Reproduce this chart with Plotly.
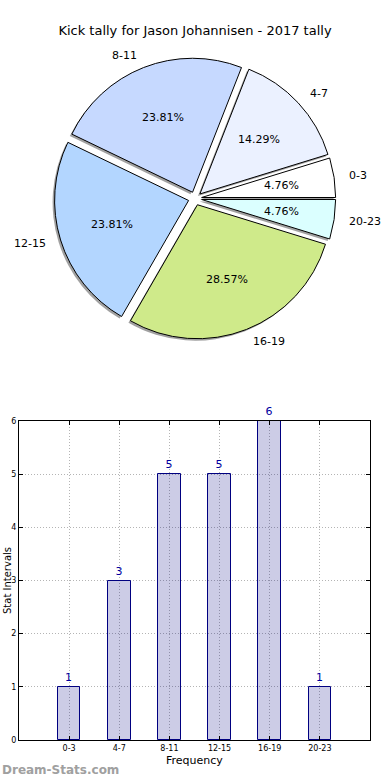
import numpy as np
import plotly.graph_objects as go

# ---- data ----
categories = ["0-3", "4-7", "8-11", "12-15", "16-19", "20-23"]
counts = [1, 3, 5, 5, 6, 1]
pie_colors = ["#FFFFFF", "#EBF1FF", "#C6D9FF", "#B3D6FF", "#CFEA8A", "#DBFFFF"]
title_text = "Kick tally for Jason Johannisen - 2017 tally"
y_ticks = [0, 1, 2, 3, 4, 5, 6]

W, H = 390, 780
FONT = "DejaVu Sans"
pull = 0.05

# pie geometry (px)
cx, cy = 195.0, 198.5
r = 134.0
half = r * (1 + pull)
dom_y = [1 - (cy + half) / H, 1 - (cy - half) / H]
dom_x = [(cx - half) / W, (cx + half) / W]

total = float(sum(counts))
# first slice starts at 3 o'clock and runs counter-clockwise
rot = 90 - 360 * counts[0] / total

fig = go.Figure()

# shadow pie
sdx, sdy = -2.0 / W, -2.0 / H
fig.add_trace(go.Pie(
    labels=categories, values=counts, sort=False, direction="counterclockwise",
    rotation=rot, pull=[pull] * len(counts), textinfo="none", hoverinfo="skip",
    marker=dict(colors=["rgba(110,110,110,0.65)"] * len(counts), line=dict(width=0)),
    domain=dict(x=[dom_x[0] + sdx, dom_x[1] + sdx], y=[dom_y[0] + sdy, dom_y[1] + sdy]),
    showlegend=False,
))
# main pie
fig.add_trace(go.Pie(
    labels=categories, values=counts, sort=False, direction="counterclockwise",
    rotation=rot, pull=[pull] * len(counts), textinfo="none",
    marker=dict(colors=pie_colors, line=dict(color="black", width=1)),
    domain=dict(x=dom_x, y=dom_y), showlegend=False,
))

annotations = []
cum = 0.0
for lab, v in zip(categories, counts):
    mid = np.deg2rad(360 * (cum + v / 2) / total)
    cum += v
    c, s = np.cos(mid), np.sin(mid)
    lx = cx + (1.1 + pull) * r * c
    ly = cy - (1.1 + pull) * r * s
    annotations.append(dict(
        x=lx / W, y=1 - ly / H, xref="paper", yref="paper", text=lab, showarrow=False,
        xanchor="left" if c > 0 else "right", yanchor="middle",
        font=dict(family=FONT, size=11, color="black")))
    px_ = cx + (0.6 + pull) * r * c
    py_ = cy - (0.6 + pull) * r * s
    annotations.append(dict(
        x=px_ / W, y=1 - py_ / H, xref="paper", yref="paper",
        text="%.2f%%" % (100 * v / total), showarrow=False,
        xanchor="center", yanchor="middle",
        font=dict(family=FONT, size=11, color="black")))

# bar chart
fig.add_trace(go.Bar(
    x=categories, y=counts, width=0.45,
    marker=dict(color="rgba(0,0,128,0.2)", line=dict(color="#000080", width=1)),
    text=[str(v) for v in counts], textposition="outside", cliponaxis=False,
    textfont=dict(family=FONT, size=11, color="#0000A0"),
    xaxis="x", yaxis="y", showlegend=False,
))

bx0, bx1 = 19 / W, 370 / W
by0, by1 = 1 - 740 / H, 1 - 421 / H

axis_common = dict(
    showline=True, linecolor="black", linewidth=1, mirror="allticks",
    ticks="inside", ticklen=4, tickcolor="black", automargin=False,
    showgrid=True, gridcolor="#b4b4b4", griddash="1px,2px", gridwidth=1,
    zeroline=False, tickfont=dict(family=FONT, size=8, color="black"),
)
fig.update_layout(
    xaxis=dict(domain=[bx0, bx1], anchor="y", range=[-1, 6], type="category", **axis_common),
    yaxis=dict(domain=[by0, by1], anchor="x", range=[0, 6], tickvals=y_ticks, **axis_common),
)

annotations.append(dict(
    x=(bx0 + bx1) / 2, y=1 - 760 / H, xref="paper", yref="paper", text="Frequency",
    showarrow=False, xanchor="center", yanchor="middle",
    font=dict(family=FONT, size=11, color="black")))
annotations.append(dict(
    x=0, y=(by0 + by1) / 2, xref="paper", yref="paper", text="Stat Intervals",
    showarrow=False, textangle=-90, xanchor="left", yanchor="middle",
    font=dict(family=FONT, size=10, color="black")))
annotations.append(dict(
    x=0, y=1 - 770 / H, xref="paper", yref="paper", text="<b>Dream-Stats.com</b>",
    showarrow=False, xanchor="left", yanchor="middle",
    font=dict(family=FONT, size=12, color="#a0a0a0")))

fig.update_layout(
    width=W, height=H, margin=dict(l=0, r=0, t=0, b=0, autoexpand=False),
    paper_bgcolor="white", plot_bgcolor="white",
    title=dict(text=title_text, x=0.5, xanchor="center", y=1 - 30 / H, yanchor="middle",
               font=dict(family=FONT, size=13, color="black")),
    annotations=annotations, bargap=0,
)

fig.write_html("out.html", config={"displayModeBar": False},
               post_script="document.body.style.margin='0px';")
